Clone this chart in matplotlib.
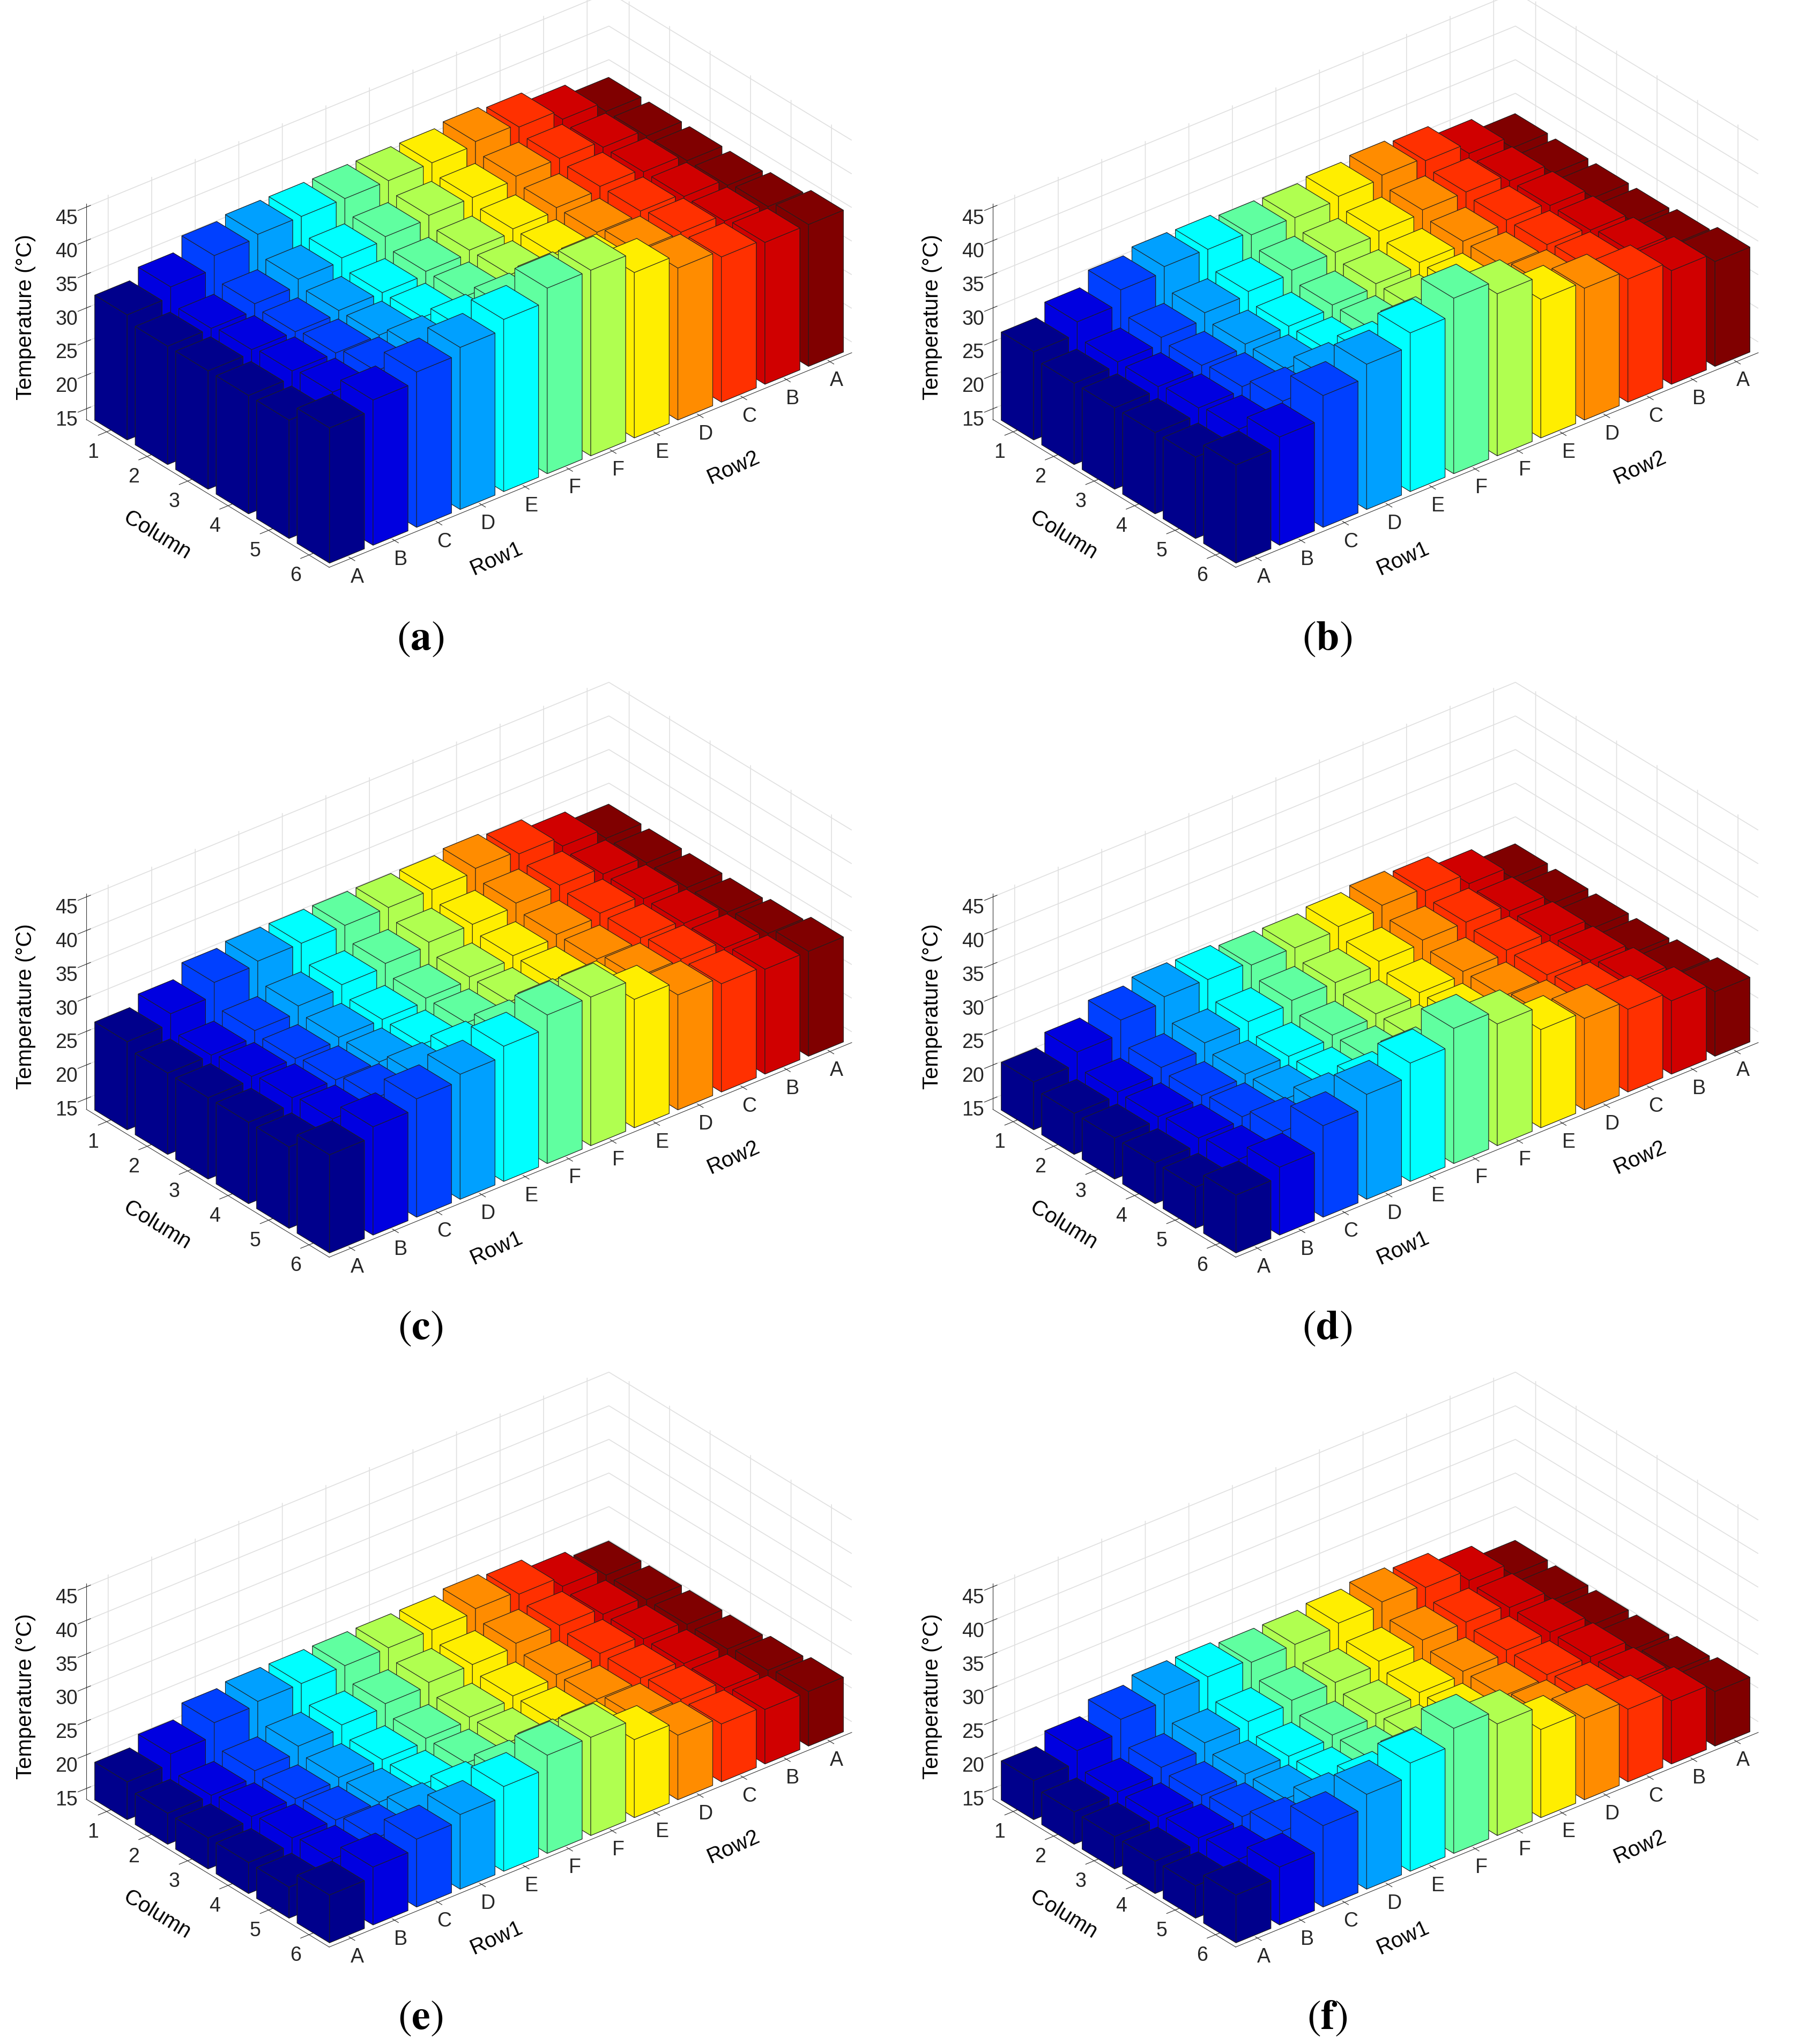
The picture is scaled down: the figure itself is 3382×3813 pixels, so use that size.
import numpy as np
import matplotlib
matplotlib.use("Agg")
import matplotlib.pyplot as plt
from mpl_toolkits.mplot3d import Axes3D, proj3d  # noqa

plt.rcParams['mathtext.fontset'] = 'stix'

row_labels = ['A', 'B', 'C', 'D', 'E', 'F', 'F', 'E', 'D', 'C', 'B', 'A']
col_labels = ['1', '2', '3', '4', '5', '6']
panel_letters = ['a', 'b', 'c', 'd', 'e', 'f']
row_colors = ['#00008c', '#0000e0', '#0040ff', '#00a0ff', '#00ffff', '#60ffa0',
              '#b0ff50', '#ffee00', '#ff8c00', '#ff3000', '#d00000', '#800000']

# temperature [row][column 1..6]
temps_a = [
    [32.0, 31.0, 31.0, 31.0, 31.0, 33.5],
    [33.5, 31.0, 31.5, 32.0, 32.5, 35.0],
    [35.5, 32.0, 31.5, 32.0, 33.0, 36.5],
    [36.0, 33.0, 32.0, 32.0, 33.5, 37.5],
    [36.0, 33.5, 32.0, 32.0, 34.0, 39.0],
    [36.0, 34.0, 32.5, 32.5, 34.5, 41.0],
    [36.0, 34.5, 33.0, 33.0, 35.0, 41.0],
    [36.0, 34.5, 33.5, 33.5, 35.0, 38.0],
    [36.5, 35.0, 34.0, 34.0, 35.0, 36.0],
    [36.0, 35.0, 34.5, 34.5, 35.0, 35.0],
    [34.5, 34.0, 34.0, 34.0, 34.0, 34.5],
    [33.0, 33.0, 33.0, 33.0, 33.5, 34.5],
]
temps_b = [
    [26.5, 25.5, 25.5, 25.5, 25.5, 28.0],
    [28.3, 26.0, 26.0, 26.5, 27.0, 29.5],
    [30.4, 27.0, 26.5, 27.0, 28.5, 33.0],
    [31.2, 28.0, 27.0, 27.0, 29.5, 35.0],
    [31.1, 28.5, 27.0, 27.0, 30.0, 37.0],
    [30.6, 29.0, 27.5, 27.5, 31.0, 39.5],
    [30.5, 29.0, 28.0, 28.0, 31.0, 37.5],
    [31.0, 29.5, 28.5, 28.5, 30.5, 34.0],
    [31.5, 30.0, 29.0, 29.0, 30.0, 33.0],
    [31.0, 30.0, 29.5, 29.5, 30.0, 31.7],
    [29.4, 29.0, 29.0, 29.0, 29.5, 30.3],
    [27.6, 27.5, 27.5, 27.5, 28.0, 29.0],
]
temps_c = [
    [26.5, 25.5, 25.5, 25.5, 25.5, 28.0],
    [28.0, 25.5, 26.0, 26.5, 27.0, 29.5],
    [30.0, 26.5, 26.0, 26.5, 27.5, 31.0],
    [30.5, 27.5, 26.5, 26.5, 28.0, 32.0],
    [30.5, 28.0, 26.5, 26.5, 28.5, 33.5],
    [30.5, 28.5, 27.0, 27.0, 29.0, 35.5],
    [30.5, 29.0, 27.5, 27.5, 29.5, 35.5],
    [30.5, 29.0, 28.0, 28.0, 29.5, 32.5],
    [31.0, 29.5, 28.5, 28.5, 29.5, 30.5],
    [30.5, 29.5, 29.0, 29.0, 29.5, 29.5],
    [29.0, 28.5, 28.5, 28.5, 28.5, 29.0],
    [27.5, 27.5, 27.5, 27.5, 28.0, 29.0],
]
temps_d = [
    [20.5, 19.5, 19.5, 19.5, 19.5, 22.0],
    [22.3, 20.0, 20.0, 20.5, 21.0, 23.5],
    [24.4, 21.0, 20.5, 21.0, 22.5, 27.0],
    [25.2, 22.0, 21.0, 21.0, 23.5, 29.0],
    [25.1, 22.5, 21.0, 21.0, 24.0, 31.0],
    [24.6, 23.0, 21.5, 21.5, 25.0, 33.5],
    [24.5, 23.0, 22.0, 22.0, 25.0, 31.5],
    [25.0, 23.5, 22.5, 22.5, 24.5, 28.0],
    [25.5, 24.0, 23.0, 23.0, 24.0, 27.0],
    [25.0, 24.0, 23.5, 23.5, 24.0, 25.7],
    [23.4, 23.0, 23.0, 23.0, 23.5, 24.3],
    [21.6, 21.5, 21.5, 21.5, 22.0, 23.0],
]
temps_e = [
    [19.0, 18.0, 18.0, 18.0, 18.0, 20.5],
    [20.5, 18.0, 18.5, 19.0, 19.5, 22.0],
    [22.5, 19.0, 18.5, 19.0, 20.0, 23.5],
    [23.0, 20.0, 19.0, 19.0, 20.5, 24.5],
    [23.0, 20.5, 19.0, 19.0, 21.0, 26.0],
    [23.0, 21.0, 19.5, 19.5, 21.5, 28.0],
    [23.0, 21.5, 20.0, 20.0, 22.0, 28.0],
    [23.0, 21.5, 20.5, 20.5, 22.0, 25.0],
    [23.5, 22.0, 21.0, 21.0, 22.0, 23.0],
    [23.0, 22.0, 21.5, 21.5, 22.0, 22.0],
    [21.5, 21.0, 21.0, 21.0, 21.0, 21.5],
    [20.5, 20.5, 20.5, 20.5, 21.0, 21.5],
]
temps_f = [
    [19.2, 18.2, 18.2, 18.2, 18.2, 20.5],
    [21.0, 18.5, 18.5, 19.0, 19.5, 22.0],
    [23.0, 19.5, 19.0, 19.5, 21.0, 25.5],
    [24.0, 20.5, 19.5, 19.5, 22.0, 27.5],
    [24.0, 21.0, 19.5, 19.5, 22.5, 29.5],
    [23.5, 21.5, 20.0, 20.0, 23.5, 32.0],
    [23.5, 21.5, 20.5, 20.5, 23.5, 30.0],
    [24.0, 22.0, 21.0, 21.0, 23.0, 26.5],
    [24.5, 22.5, 21.5, 21.5, 22.5, 25.5],
    [24.0, 22.5, 22.0, 22.0, 22.5, 24.2],
    [22.4, 22.0, 22.0, 22.0, 22.0, 22.8],
    [20.6, 20.5, 20.5, 20.5, 21.0, 21.5],
]
all_temps = [temps_a, temps_b, temps_c, temps_d, temps_e, temps_f]

ZMIN, ZMAX = 13.4, 45.5
FONT = 'Liberation Sans'

fig = plt.figure(figsize=(33.82, 38.13), dpi=100)

for k, temps in enumerate(all_temps):
    r, c = divmod(k, 2)
    left = c * 0.5 + 0.004
    bottom = 0.7047 - r * 0.3375
    ax = fig.add_axes([left, bottom, 0.5, 0.31], projection='3d',
                      computed_zorder=False)
    ax.set_proj_type('ortho')
    ax.view_init(elev=30, azim=-129.4)
    ax.set_box_aspect((502, 284, 185), zoom=1.25)
    T = np.array(temps)
    w = 0.8
    # paint back to front
    for i in range(11, -1, -1):
        for j in range(6):  # column 1 (y=5, far) first
            y = 5 - j
            coll = ax.bar3d(i - w / 2, y - w / 2, ZMIN, w, w, T[i, j] - ZMIN,
                            color=row_colors[i], edgecolor=(0.12, 0.12, 0.12, 0.9),
                            linewidth=0.8, shade=False)
            coll.set_clip_on(False)
    ax.set_xlim(-0.5, 11.5)
    ax.set_ylim(-0.5, 5.5)
    ax.set_zlim(ZMIN, ZMAX)
    ax.set_xticks(range(12))
    ax.set_xticklabels(row_labels, fontsize=27, family=FONT)
    ax.set_yticks(range(6))
    ax.set_yticklabels(col_labels[::-1], fontsize=27, family=FONT)
    ax.set_zticks([15, 20, 25, 30, 35, 40, 45])
    ax.set_zticklabels(['15', '20', '25', '30', '35', '40', '45'], fontsize=27,
                       family=FONT)
    ax.tick_params(colors=(0.15, 0.15, 0.15))
    for a in (ax.xaxis, ax.yaxis, ax.zaxis):
        a.set_pane_color((1, 1, 1, 1))
        a._axinfo['grid']['color'] = (0.88, 0.88, 0.88, 1)
        a._axinfo['grid']['linewidth'] = 1.2
        a.line.set_color((0.2, 0.2, 0.2))
    ax.set_zlabel('Temperature (°C)', fontsize=29, family=FONT, labelpad=14)
    ax.set_ylabel('Column', fontsize=29, family=FONT, labelpad=22)
    M = ax.get_proj()
    for xr, yr, lab in ((2.0, -1.95, 'Row1'), (7.3, -2.1, 'Row2')):
        px, py, _ = proj3d.proj_transform(xr, yr, ZMIN, M)
        ax.text2D(px, py, lab, transform=ax.transData, fontsize=29, family=FONT,
                  rotation=24, ha='center', va='center')
    ax.patch.set_alpha(0)
    fig.text(c * 0.5 + 0.232, 0.688 - r * 0.3375, r'$(\mathbf{%s})$' % panel_letters[k],
             fontsize=56, ha='center', va='center')

fig.savefig('out.png', dpi=100)
